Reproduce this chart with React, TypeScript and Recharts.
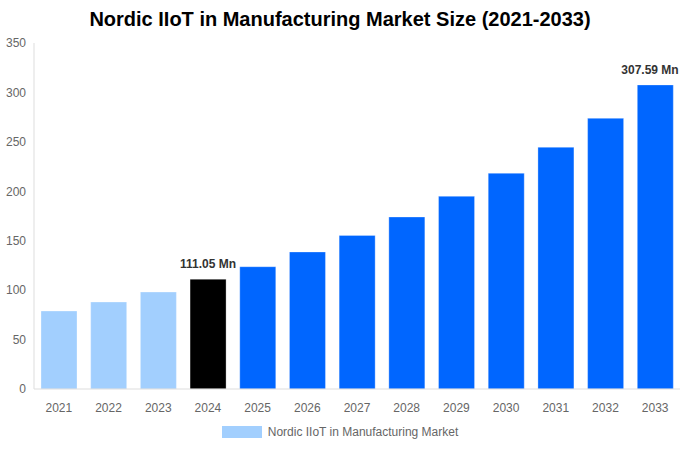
import { Bar, BarChart, Cell, LabelList, Legend, XAxis, YAxis } from 'recharts'

const anios = ['2021', '2022', '2023', '2024', '2025', '2026', '2027', '2028', '2029', '2030', '2031', '2032', '2033']
const valores = [78.9, 88.0, 98.1, 111.05, 123.7, 138.6, 155.4, 174.0, 194.9, 218.2, 244.5, 273.8, 307.59]
const tipos = ['hist', 'hist', 'hist', 'base', 'proy', 'proy', 'proy', 'proy', 'proy', 'proy', 'proy', 'proy', 'proy']
const etiquetas: Record<string, string> = { '2024': '111.05 Mn', '2033': '307.59 Mn' }
const ticksY = [0, 50, 100, 150, 200, 250, 300, 350]

const COLORES: Record<string, string> = {
  hist: '#a2cffe',
  base: '#000000',
  proy: '#0066ff',
}

const datos = anios.map((anio, i) => ({ anio, valor: valores[i], tipo: tipos[i] }))

const FUENTE = 'Liberation Sans, Arial, sans-serif'
const ANCHO = 680

function Etiqueta(props: any) {
  const { x, y, width, index } = props
  const texto = etiquetas[anios[index]]
  if (!texto) return null
  // el texto del último año se corre un poco para que no se corte en el borde
  const centro = Math.min(Number(x) + Number(width) / 2, ANCHO - 30)
  return (
    <text
      x={centro}
      y={Number(y) - 11}
      textAnchor="middle"
      fontSize={12}
      fontWeight="bold"
      fill="#333333"
      fontFamily={FUENTE}
    >
      {texto}
    </text>
  )
}

function Leyenda() {
  return (
    <div style={{ display: 'flex', justifyContent: 'center', alignItems: 'center', fontFamily: FUENTE }}>
      <span style={{ display: 'inline-block', width: 40, height: 12, background: COLORES.hist, marginRight: 6 }} />
      <span style={{ fontSize: 12, color: '#666666' }}>Nordic IIoT in Manufacturing Market</span>
    </div>
  )
}

export default function App() {
  return (
    <div style={{ position: 'relative', width: ANCHO, height: 450, background: '#fff' }}>
      <style>{`body{margin:0}`}</style>
      <div
        style={{
          position: 'absolute',
          top: 8,
          left: 0,
          width: ANCHO,
          textAlign: 'center',
          fontFamily: FUENTE,
          fontWeight: 'bold',
          fontSize: 20,
          color: '#000',
        }}
      >
        Nordic IIoT in Manufacturing Market Size (2021-2033)
      </div>
      <BarChart width={ANCHO} height={450} data={datos} margin={{ top: 43, right: 0, left: 0, bottom: 0 }} barSize={36}>
        <XAxis
          dataKey="anio"
          tickLine={false}
          axisLine={{ stroke: '#dddddd' }}
          tick={{ fill: '#666666', fontSize: 12, fontFamily: FUENTE }}
          tickMargin={8}
          height={36}
          interval={0}
        />
        <YAxis
          domain={[0, 350]}
          ticks={ticksY}
          width={34}
          tickLine={false}
          axisLine={{ stroke: '#dddddd' }}
          tick={{ fill: '#666666', fontSize: 12, fontFamily: FUENTE }}
        />
        <Legend verticalAlign="bottom" height={25} content={() => <Leyenda />} />
        <Bar dataKey="valor" isAnimationActive={false} stroke="#ffffff" strokeOpacity={0.3}>
          {datos.map((d) => (
            <Cell key={d.anio} fill={COLORES[d.tipo]} />
          ))}
          <LabelList dataKey="valor" content={Etiqueta} />
        </Bar>
      </BarChart>
    </div>
  )
}
